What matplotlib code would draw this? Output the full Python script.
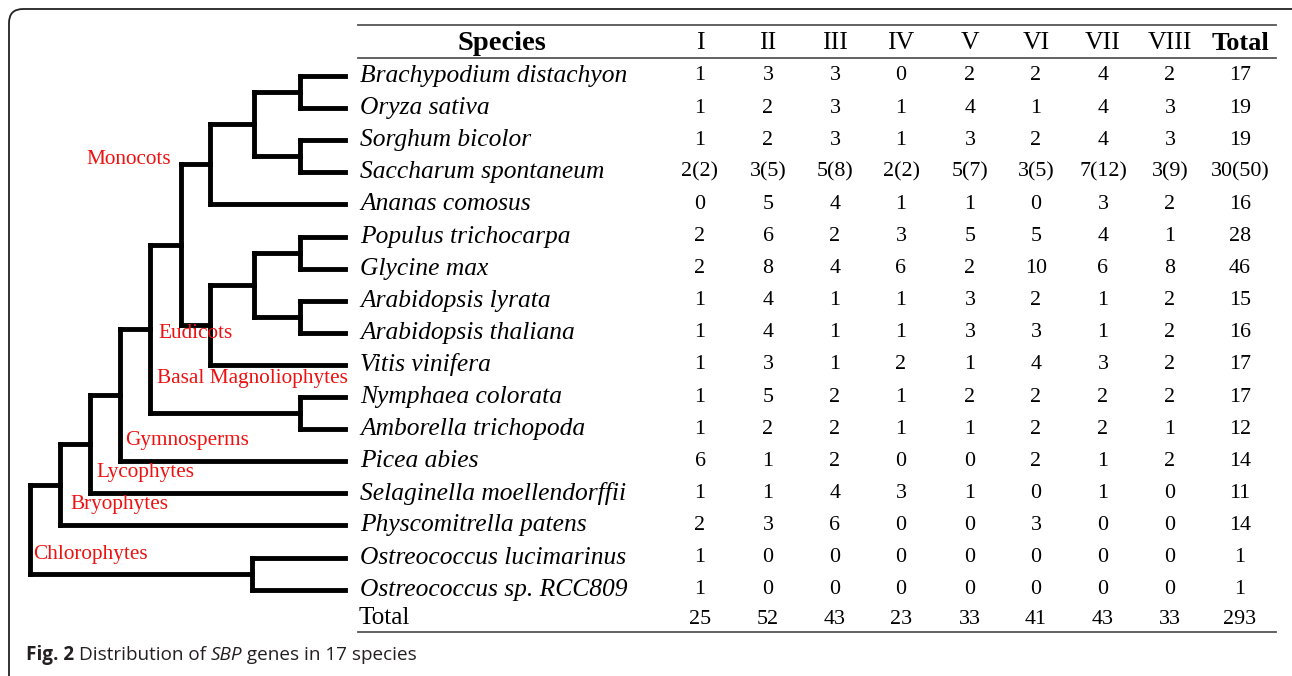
import matplotlib.pyplot as plt
from matplotlib.patches import FancyBboxPatch

# table data
species = ["Brachypodium distachyon", "Oryza sativa", "Sorghum bicolor",
           "Saccharum spontaneum", "Ananas comosus", "Populus trichocarpa",
           "Glycine max", "Arabidopsis lyrata", "Arabidopsis thaliana",
           "Vitis vinifera", "Nymphaea colorata", "Amborella trichopoda",
           "Picea abies", "Selaginella moellendorffii", "Physcomitrella patens",
           "Ostreococcus lucimarinus", "Ostreococcus sp. RCC809"]
groups = ["I", "II", "III", "IV", "V", "VI", "VII", "VIII"]
counts = [
    ["1", "3", "3", "0", "2", "2", "4", "2", "17"],
    ["1", "2", "3", "1", "4", "1", "4", "3", "19"],
    ["1", "2", "3", "1", "3", "2", "4", "3", "19"],
    ["2(2)", "3(5)", "5(8)", "2(2)", "5(7)", "3(5)", "7(12)", "3(9)", "30(50)"],
    ["0", "5", "4", "1", "1", "0", "3", "2", "16"],
    ["2", "6", "2", "3", "5", "5", "4", "1", "28"],
    ["2", "8", "4", "6", "2", "10", "6", "8", "46"],
    ["1", "4", "1", "1", "3", "2", "1", "2", "15"],
    ["1", "4", "1", "1", "3", "3", "1", "2", "16"],
    ["1", "3", "1", "2", "1", "4", "3", "2", "17"],
    ["1", "5", "2", "1", "2", "2", "2", "2", "17"],
    ["1", "2", "2", "1", "1", "2", "2", "1", "12"],
    ["6", "1", "2", "0", "0", "2", "1", "2", "14"],
    ["1", "1", "4", "3", "1", "0", "1", "0", "11"],
    ["2", "3", "6", "0", "0", "3", "0", "0", "14"],
    ["1", "0", "0", "0", "0", "0", "0", "0", "1"],
    ["1", "0", "0", "0", "0", "0", "0", "0", "1"],
]
totals = ["25", "52", "43", "23", "33", "41", "43", "33", "293"]

# tree: (node x, [children]); ints are leaf rows
tree = (30, [
    (60, [
        (90, [
            (120, [
                (150, [
                    (181, [
                        (210, [(254, [(300, [0, 1]), (300, [2, 3])]), 4]),
                        (210, [(254, [(300, [5, 6]), (300, [7, 8])]), 9]),
                    ]),
                    (300, [10, 11]),
                ]),
                12,
            ]),
            13,
        ]),
        14,
    ]),
    (252, [15, 16]),
])
clades = [("Monocots", 86, 160), ("Eudicots", 158, 334),
          ("Basal Magnoliophytes", 157, 378), ("Gymnosperms", 125, 440),
          ("Lycophytes", 96, 473), ("Bryophytes", 70, 505),
          ("Chlorophytes", 33, 555)]

W, H = 1292, 676
fig = plt.figure(figsize=(W / 100, H / 100), dpi=100)
ax = fig.add_axes([0, 0, 1, 1])
ax.set_xlim(0, W)
ax.set_ylim(H, 0)
ax.axis("off")

serif = "Liberation Serif"
row_y0, row_dy = 76, 32.1
leaf_x = 345


def row_y(i):
    return row_y0 + i * row_dy


# frame
ax.add_patch(FancyBboxPatch((9, 9), 1400, 900,
                            boxstyle="round,pad=0,rounding_size=14",
                            fc="none", ec="#222222", lw=1.3))


# tree drawing, returns y of the node
def draw(node):
    if isinstance(node, int):
        return row_y(node), leaf_x
    nx, kids = node
    ys = []
    for k in kids:
        ky, kx = draw(k)
        ys.append(ky)
        ax.plot([nx, kx], [ky, ky], color="black", lw=3.5,
                solid_capstyle="projecting")
    ax.plot([nx, nx], [min(ys), max(ys)], color="black", lw=3.5,
            solid_capstyle="projecting")
    return (min(ys) + max(ys)) / 2, nx


ry, rx = draw(tree)

for name, x, y in clades:
    ax.text(x, y, name, color="#ee1111", family=serif, fontsize=15.3,
            ha="left", va="center")

# table
col_x = [700, 768, 835, 901, 970, 1036, 1103, 1170, 1240]
for y in (25, 58, 632):
    ax.plot([358, 1276], [y, y], color="#555555", lw=1.3)

ax.text(502, 43, "Species", family=serif, fontsize=20.5, weight="bold",
        ha="center", va="center")
for x, g in zip(col_x, groups):
    ax.text(x, 43, g, family=serif, fontsize=18.5, ha="center", va="center")
ax.text(col_x[-1], 43, "Total", family=serif, fontsize=19, weight="bold",
        ha="center", va="center")

for i, (sp, vals) in enumerate(zip(species, counts)):
    y = row_y(i)
    ax.text(360, y, sp, family=serif, style="italic", fontsize=18.4,
            ha="left", va="center")
    for x, v in zip(col_x, vals):
        ax.text(x, y, v, family=serif, fontsize=15.8, ha="center", va="center")

ax.text(359, 618, "Total", family=serif, fontsize=18.2, ha="left", va="center")
for x, v in zip(col_x, totals):
    ax.text(x, 619, v, family=serif, fontsize=15.8, ha="center", va="center")

# caption built piece by piece
fig.canvas.draw()
renderer = fig.canvas.get_renderer()
cx = 26
parts = [("Fig. 2 ", "bold", "normal"), ("Distribution of ", "normal", "normal"),
         ("SBP", "normal", "italic"), (" genes in 17 species", "normal", "normal")]
for s, w, st in parts:
    t = ax.text(cx, 655, s, family="Open Sans", fontsize=13.6, weight=w, style=st,
                color="#231f20", ha="left", va="center")
    bb = t.get_window_extent(renderer)
    cx += bb.width

fig.savefig("out.png", dpi=100)
